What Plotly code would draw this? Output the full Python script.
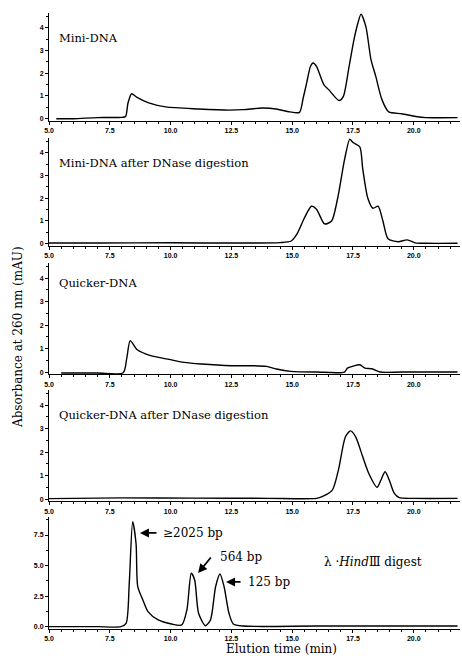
import plotly.graph_objects as go

# ---- data (elution time in min, absorbance in mAU) ----
t_mini = [5.3, 6.0, 7.0, 8.0, 8.15, 8.25, 8.4, 8.6, 9.1, 9.8, 11.15, 12.4, 13.0, 13.77, 14.34, 14.9,
          15.3, 15.45, 15.6, 15.75, 15.86, 16.0, 16.3, 16.5, 16.93, 17.1, 17.34, 17.54, 17.7, 17.83,
          18.03, 18.24, 18.44, 18.69, 18.97, 19.5, 20.08, 20.5, 21.8]
a_mini = [0.0, 0.0, 0.05, 0.06, 0.1, 0.7, 1.1, 0.95, 0.7, 0.52, 0.43, 0.38, 0.4, 0.47, 0.43, 0.3,
          0.28, 0.9, 1.6, 2.3, 2.45, 2.3, 1.5, 1.28, 0.8, 0.97, 2.3, 3.48, 4.2, 4.6,
          4.05, 2.6, 1.85, 0.84, 0.3, 0.22, 0.1, 0.05, 0.05]

t_mini_dn = [5.0, 7.0, 10.0, 12.5, 14.5, 14.96, 15.2, 15.5, 15.79, 16.0, 16.33, 16.62, 16.87, 17.16,
             17.37, 17.5, 17.78, 17.9, 18.11, 18.32, 18.53, 18.73, 18.94, 19.36, 19.73, 20.06, 20.5, 21.8]
a_mini_dn = [0.03, 0.03, 0.04, 0.03, 0.05, 0.12, 0.43, 1.13, 1.65, 1.52, 0.87, 1.0, 2.0, 3.74,
             4.6, 4.45, 4.26, 3.3, 2.0, 1.56, 1.65, 1.0, 0.22, 0.09, 0.17, 0.04, 0.02, 0.02]

t_quick = [5.5, 7.0, 8.05, 8.2, 8.34, 8.63, 9.18, 9.88, 10.55, 11.26, 12.5, 13.4, 13.94, 14.35, 14.94,
           16.0, 17.15, 17.27, 17.5, 17.78, 17.99, 18.28, 18.61, 19.5, 21.8]
a_quick = [-0.04, -0.04, -0.03, 0.6, 1.34, 0.95, 0.7, 0.55, 0.41, 0.34, 0.27, 0.27, 0.24, 0.13, 0.03,
           0.0, 0.0, 0.17, 0.25, 0.31, 0.17, 0.14, 0.0, 0.0, 0.0]

t_quick_dn = [5.0, 8.0, 11.0, 14.0, 16.0, 16.23, 16.65, 16.9, 17.19, 17.4, 17.61, 17.9, 18.15, 18.49,
              18.65, 18.82, 18.99, 19.2, 19.4, 20.0, 21.8]
a_quick_dn = [0.02, 0.05, 0.04, 0.03, 0.03, 0.1, 0.38, 1.23, 2.65, 2.9, 2.65, 1.8, 1.09, 0.5,
              0.81, 1.16, 0.81, 0.24, 0.06, 0.03, 0.03]

t_lambda = [5.0, 7.0, 7.96, 8.17, 8.3, 8.44, 8.58, 8.65, 8.86, 9.07, 9.49, 10.04, 10.46, 10.67, 10.85,
            10.99, 11.15, 11.43, 11.64, 11.85, 12.03, 12.2, 12.4, 12.58, 13.0, 16.0, 21.8]
a_lambda = [0.0, 0.0, 0.0, 0.27, 3.55, 8.6, 6.8, 3.27, 2.18, 1.23, 0.55, 0.22, 0.14, 1.37, 4.37,
            3.82, 1.1, 0.08, 0.55, 3.27, 4.31, 3.27, 1.1, 0.22, 0.05, 0.05, 0.05]

panel_titles = ["Mini-DNA", "Mini-DNA after DNase digestion", "Quicker-DNA",
                "Quicker-DNA after DNase digestion"]
x_ticks = [5.0, 7.5, 10.0, 12.5, 15.0, 17.5, 20.0]
y_ticks_small = [0, 1, 2, 3, 4]
y_ticks_lambda = [0.0, 2.5, 5.0, 7.5]

series = [(t_mini, a_mini), (t_mini_dn, a_mini_dn), (t_quick, a_quick),
          (t_quick_dn, a_quick_dn), (t_lambda, a_lambda)]

W, H = 462, 662
L, R = 49, 2
# pixel top/bottom of each panel
panel_px = [(13, 121), (138, 246), (262.8, 374.4), (389.8, 501.4), (516.7, 628.5)]
yranges = [[-0.1, 4.65]] * 4 + [[-0.15, 9.0]]
XR = [5.0, 21.9]

SERIF = "DejaVu Serif"
TICKFONT = dict(family="Liberation Sans", size=7, color="black", weight="bold")

fig = go.Figure()
for i, (t, a) in enumerate(series, start=1):
    fig.add_trace(go.Scatter(x=t, y=a, mode="lines", xaxis=f"x{i}", yaxis=f"y{i}",
                             line=dict(color="black", width=1.4, shape="spline", smoothing=0.7),
                             showlegend=False, hoverinfo="skip"))

layout = dict(width=W, height=H, margin=dict(l=L, r=R, t=0, b=0, autoexpand=False),
              paper_bgcolor="white", plot_bgcolor="white", showlegend=False)
for i in range(1, 6):
    top, bot = panel_px[i - 1]
    xa = dict(domain=[0, 1], range=XR, anchor=f"y{i}", showline=True, linecolor="black",
              linewidth=1, ticks="outside", ticklen=3, tickwidth=1, tickcolor="black",
              tickvals=x_ticks, tickformat=".1f", tickfont=TICKFONT, showgrid=False,
              zeroline=False, automargin=False,
              minor=dict(ticks="outside", ticklen=2, dtick=0.5, tick0=5, tickcolor="black"))
    ya = dict(domain=[1 - bot / H, 1 - top / H], range=yranges[i - 1], anchor=f"x{i}",
              showline=True, linecolor="black", linewidth=1, ticks="outside", ticklen=3,
              tickwidth=1, tickcolor="black", tickfont=TICKFONT, showgrid=False, zeroline=False,
              automargin=False)
    if i < 5:
        ya.update(tickvals=y_ticks_small, minor=dict(ticks="outside", ticklen=2, dtick=0.5,
                                                    tickcolor="black"))
    else:
        ya.update(tickvals=y_ticks_lambda, tickformat=".1f",
                  minor=dict(ticks="outside", ticklen=2, dtick=1.25, tickcolor="black"))
    layout[f"xaxis{i}"] = xa
    layout[f"yaxis{i}"] = ya
fig.update_layout(**layout)

PW = W - L - R
def px2paper(x, y):
    return (x - L) / PW, 1 - y / H

annos = []
title_pos = [(57, 38), (57, 163), (57, 283), (57, 415)]
for txt, (xp, yp) in zip(panel_titles, title_pos):
    px_, py_ = px2paper(xp, yp)
    annos.append(dict(x=px_, y=py_, xref="paper", yref="paper", text=txt, showarrow=False,
                      xanchor="left", yanchor="middle", font=dict(family=SERIF, size=11.5, color="black")))

# lambda panel labels
for txt, (xp, yp) in [("≥2025 bp", (161, 533)), ("564 bp", (218, 557)), ("125 bp", (246, 582)),
                      ("λ ·<i>Hind</i>Ⅲ digest", (322, 562))]:
    px_, py_ = px2paper(xp, yp)
    annos.append(dict(x=px_, y=py_, xref="paper", yref="paper", text=txt, showarrow=False,
                      xanchor="left", yanchor="middle", font=dict(family=SERIF, size=12, color="black")))

# arrows (head in data coords of panel 5, tail in pixel offsets)
for (hx, hy, ax, ay) in [(8.74, 7.67, 18, 0), (11.13, 4.39, 14, -17), (12.28, 3.66, 16, 0)]:
    annos.append(dict(x=hx, y=hy, xref="x5", yref="y5", text="", showarrow=True, ax=ax, ay=ay,
                      arrowhead=2, arrowsize=1, arrowwidth=1.8, arrowcolor="black"))

# axis titles
px_, py_ = px2paper(281, 649)
annos.append(dict(x=px_, y=py_, xref="paper", yref="paper", text="Elution time (min)", showarrow=False,
                  xanchor="center", yanchor="middle", font=dict(family=SERIF, size=12, color="black")))
px_, py_ = px2paper(18, 337)
annos.append(dict(x=px_, y=py_, xref="paper", yref="paper", text="Absorbance at 260 nm (mAU)",
                  showarrow=False, textangle=-90, xanchor="center", yanchor="middle",
                  font=dict(family=SERIF, size=12, color="black")))

fig.update_layout(annotations=annos)
fig.write_html("out.html", config={"displayModeBar": False},
               post_script="document.body.style.margin='0px';")
